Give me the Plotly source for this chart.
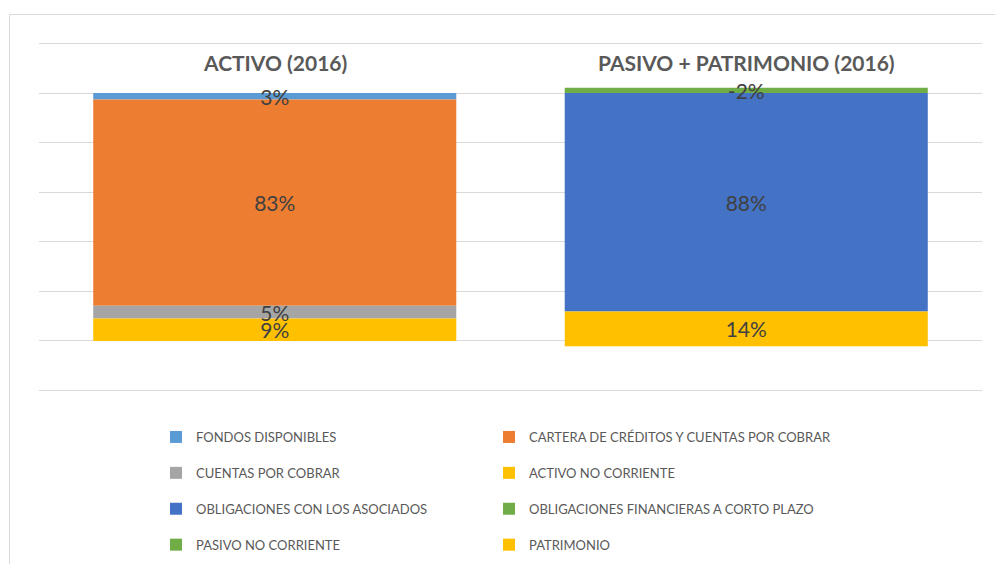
import plotly.graph_objects as go

# ---- data ----
categories = ["ACTIVO (2016)", "PASIVO + PATRIMONIO (2016)"]
series_names = [
    "FONDOS DISPONIBLES",
    "CARTERA DE CRÉDITOS Y CUENTAS POR COBRAR",
    "CUENTAS POR COBRAR",
    "ACTIVO NO CORRIENTE",
    "OBLIGACIONES CON LOS ASOCIADOS",
    "OBLIGACIONES FINANCIERAS A CORTO PLAZO",
    "PASIVO NO CORRIENTE",
    "PATRIMONIO",
]
fondos = [2.6, None]
cartera = [83.2, None]
cuentas = [5.1, None]
activo_nc = [9.1, None]
oblig_asoc = [None, 88.1]
oblig_fin = [None, -2.1]
pasivo_nc = [None, None]
patrimonio = [None, 14.0]
series_values = [fondos, cartera, cuentas, activo_nc, oblig_asoc, oblig_fin, pasivo_nc, patrimonio]
series_colors = ["#5B9BD5", "#ED7D31", "#A5A5A5", "#FFC000", "#4472C4", "#70AD47", "#70AD47", "#FFC000"]
legend_cols = ["legend", "legend2", "legend", "legend2", "legend", "legend2", "legend", "legend2"]

FONT = "Lato"
fig = go.Figure()
# coloured bars
for name, vals, col, lg in zip(series_names, series_values, series_colors, legend_cols):
    fig.add_trace(go.Bar(
        x=categories, y=vals, name=name,
        marker=dict(color=col, line=dict(width=0)),
        legend=lg, legendgroup=name, hoverinfo="skip",
    ))
# same stack on an overlaid axis pair, transparent, carrying the data labels above all bars
for name, vals in zip(series_names, series_values):
    fig.add_trace(go.Bar(
        x=categories, y=vals, name=name, xaxis="x2", yaxis="y2",
        marker=dict(color="rgba(0,0,0,0)", line=dict(width=0)),
        texttemplate="%{y:.0f}%", textposition="inside", insidetextanchor="middle",
        textfont=dict(family=FONT, size=21, color="#404040"),
        showlegend=False, cliponaxis=False, hoverinfo="skip",
    ))

W, H = 995, 564
L, R, T, B = 39, 13, 41, 171
pw, ph = W - L - R, H - T - B

def px(xp):
    return (xp - L) / pw

def py(yp):
    return (H - B - yp) / ph

for cat in categories:
    fig.add_annotation(x=cat, xref="x", y=py(62), yref="paper", text=cat, showarrow=False,
                       font=dict(family=FONT, size=21, color="#595959", weight="bold"),
                       yanchor="middle")

fig.add_shape(type="rect", xref="paper", yref="paper",
              x0=px(9.5), x1=px(1005), y0=py(14.5), y1=py(600),
              line=dict(color="#D9D9D9", width=1), fillcolor="rgba(0,0,0,0)", layer="below")

leg_common = dict(orientation="v", font=dict(family=FONT, size=13, color="#595959"),
                  tracegroupgap=16, bgcolor="rgba(0,0,0,0)", yanchor="top", xanchor="left",
                  itemclick=False, itemdoubleclick=False)
yrange = [121, -21]
fig.update_layout(
    width=W, height=H,
    margin=dict(l=L, r=R, t=T, b=B, autoexpand=False),
    barmode="relative", bargap=0.23,
    paper_bgcolor="white", plot_bgcolor="white",
    uniformtext=dict(minsize=21, mode="show"),
    xaxis=dict(showticklabels=False, showgrid=False, zeroline=False, showline=False, ticks=""),
    yaxis=dict(range=yrange, dtick=20, tick0=0, showticklabels=False, showgrid=True,
               gridcolor="#D9D9D9", gridwidth=1.3, zeroline=True, zerolinecolor="#D9D9D9",
               zerolinewidth=1.3, showline=False, ticks=""),
    xaxis2=dict(overlaying="x", matches="x", visible=False, showgrid=False, zeroline=False),
    yaxis2=dict(overlaying="y", range=yrange, visible=False, showgrid=False, zeroline=False),
    legend=dict(x=px(156), y=py(422), **leg_common),
    legend2=dict(x=px(489), y=py(422), **leg_common),
    showlegend=True,
    hovermode=False,
)
fig.write_html("out.html", config={"displayModeBar": False},
               post_script="document.body.style.margin='0px';")
